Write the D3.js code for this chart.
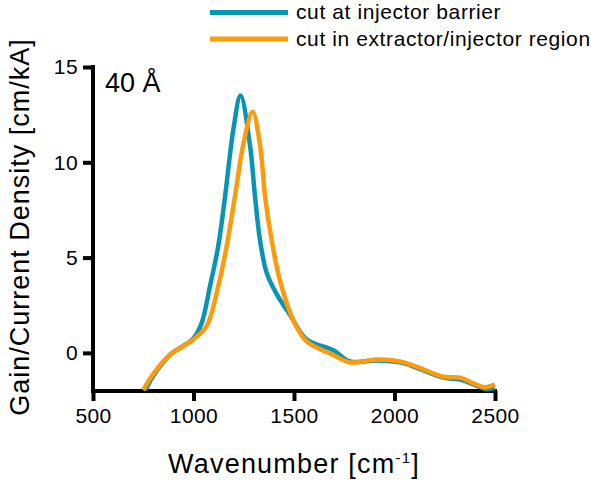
<!DOCTYPE html>
<html>
<head>
<meta charset="utf-8">
<script src="https://cdn.jsdelivr.net/npm/d3@7"></script>
<style>
  body { margin: 0; background: #fff; }
  text { font-family: "Liberation Sans", Arial, sans-serif; fill: #000; }
</style>
</head>
<body>
<div id="chart"></div>
<script>
// values
var barrierX = [762, 800, 883, 999, 1040, 1082, 1123, 1157, 1198, 1234, 1281, 1306, 1331, 1364, 1413, 1480, 1563, 1694, 1779, 1911, 2028, 2127, 2243, 2326, 2393, 2451, 2500];
var barrierY = [-1.95, -1.2, -0.1, 0.75, 1.55, 3.5, 5.6, 8.2, 11.7, 13.5, 10.9, 8.2, 5.9, 4.2, 3.1, 2.0, 0.7, 0.15, -0.45, -0.4, -0.5, -0.85, -1.3, -1.4, -1.65, -1.9, -1.85];
var regionX = [750, 800, 883, 999, 1065, 1123, 1165, 1206, 1247, 1294, 1331, 1356, 1389, 1430, 1497, 1563, 1694, 1779, 1911, 2028, 2127, 2243, 2326, 2393, 2451, 2500];
var regionY = [-1.95, -1.1, -0.1, 0.7, 1.4, 3.5, 5.6, 8.2, 10.9, 12.65, 10.9, 8.2, 5.9, 3.8, 1.7, 0.6, -0.1, -0.5, -0.35, -0.45, -0.8, -1.25, -1.3, -1.6, -1.8, -1.65];
var xTicks = [500, 1000, 1500, 2000, 2500];
var yTicks = [0, 5, 10, 15];
var seriesNames = ["cut at injector barrier", "cut in extractor/injector region"];
var seriesColors = ["#0894b4", "#ff9a0a"];

var svgWidth = 591;
var svgHeight = 483;

var svg = d3.select("#chart")
  .append("svg")
  .attr("width", svgWidth)
  .attr("height", svgHeight);

var x = d3.scaleLinear().domain([500, 2500]).range([93, 495]);
var y = d3.scaleLinear().domain([-2, 15]).range([391, 67]);

// axes
var xAxis = svg.append("g")
  .attr("transform", "translate(0," + y(-2) + ")")
  .call(d3.axisBottom(x).tickValues(xTicks).tickSize(10).tickPadding(7).tickFormat(d3.format("d")));

var yAxis = svg.append("g")
  .attr("transform", "translate(" + x(500) + ",0)")
  .call(d3.axisLeft(y).tickValues(yTicks).tickSize(10).tickPadding(5).tickFormat(d3.format("d")));

[xAxis, yAxis].forEach(function(ax) {
  ax.select(".domain").attr("stroke", "#000").attr("stroke-width", 4).attr("stroke-linecap", "square");
  ax.selectAll(".tick line").attr("stroke", "#000").attr("stroke-width", 4);
  ax.selectAll(".tick text").style("font-size", "21px").style("letter-spacing", "0.4px")
    .attr("font-family", "Liberation Sans, Arial, sans-serif").attr("fill", "#000");
});
// no tick-size caps on the domain path
xAxis.select(".domain").attr("d", "M" + x(500) + ",0H" + x(2500));
yAxis.select(".domain").attr("d", "M0," + y(-2) + "V" + y(15));

// lines
var line = d3.line()
  .x(function(d) { return x(d[0]); })
  .y(function(d) { return y(d[1]); })
  .curve(d3.curveCatmullRom.alpha(0.5));

var series = [
  d3.zip(barrierX, barrierY),
  d3.zip(regionX, regionY)
];

series.forEach(function(pts, i) {
  svg.append("path")
    .datum(pts)
    .attr("d", line)
    .attr("fill", "none")
    .attr("stroke", seriesColors[i])
    .attr("stroke-width", 4.5)
    .attr("stroke-linejoin", "round");
});

// legend
seriesNames.forEach(function(name, i) {
  var ly = 12.5 + i * 26.5;
  svg.append("line")
    .attr("x1", 210).attr("x2", 288)
    .attr("y1", ly).attr("y2", ly)
    .attr("stroke", seriesColors[i])
    .attr("stroke-width", 5);
  svg.append("text")
    .attr("x", 296).attr("y", ly + 6.5)
    .style("font-size", "21px")
    .style("letter-spacing", "0.6px")
    .text(name);
});

// labels
svg.append("text")
  .attr("x", 105).attr("y", 92)
  .style("font-size", "27px")
  .text("40 Å");

var xl = svg.append("text")
  .attr("x", 294).attr("y", 473)
  .attr("text-anchor", "middle")
  .style("font-size", "27px")
  .style("letter-spacing", "1.2px");
xl.append("tspan").text("Wavenumber [cm");
xl.append("tspan").attr("dy", -10).style("font-size", "15px").text("-1");
xl.append("tspan").attr("dy", 10).text("]");

svg.append("text")
  .attr("transform", "translate(29,227) rotate(-90)")
  .attr("text-anchor", "middle")
  .style("font-size", "27px")
  .style("letter-spacing", "1px")
  .text("Gain/Current Density [cm/kA]");
</script>
</body>
</html>
